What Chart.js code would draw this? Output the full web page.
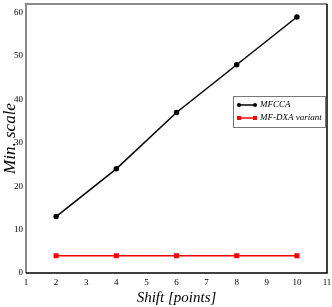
<!DOCTYPE html>
<html>
<head>
<meta charset="utf-8">
<script src="https://cdn.jsdelivr.net/npm/chart.js@4.4.0/dist/chart.umd.min.js"></script>
<style>
  html, body { margin: 0; padding: 0; background: #fff; }
  #wrap { width: 332px; height: 307px; }
</style>
</head>
<body>
<div id="wrap"><canvas id="myChart" width="332" height="307"></canvas></div>
<script>
const shifts = [2, 4, 6, 8, 10];
const mfcca = [13, 24, 37, 48, 59];
const mfdxa = [4, 4, 4, 4, 4];
const seriesNames = ['MFCCA', 'MF-DXA variant'];
const yTicks = [0, 10, 20, 30, 40, 50, 60];

const serif = '"Liberation Serif", "DejaVu Serif", serif';

// frame + legend drawn by hand
const framePlugin = {
    id: 'frame',
    afterDraw(chart) {
        const { ctx, chartArea: a } = chart;
        ctx.save();
        ctx.strokeStyle = '#8a8a8a';
        ctx.lineWidth = 2;
        ctx.beginPath();
        ctx.moveTo(a.left, a.bottom);
        ctx.lineTo(a.left, a.top);
        ctx.lineTo(a.right, a.top);
        ctx.stroke();
        ctx.strokeStyle = '#000';
        ctx.lineWidth = 1.5;
        ctx.beginPath();
        ctx.moveTo(a.left, a.bottom);
        ctx.lineTo(a.right, a.bottom);
        ctx.lineTo(a.right, a.top);
        ctx.stroke();

        // legend box
        const bx = 233, by = 96, bw = 92, bh = 31;
        ctx.fillStyle = '#fff';
        ctx.fillRect(bx, by, bw, bh);
        ctx.strokeStyle = '#777';
        ctx.lineWidth = 1;
        ctx.strokeRect(bx + 0.5, by + 0.5, bw, bh);
        chart.data.datasets.forEach((ds, i) => {
            const y = by + 9 + i * 13;
            ctx.strokeStyle = ds.borderColor;
            ctx.lineWidth = 1.5;
            ctx.beginPath();
            ctx.moveTo(bx + 6, y);
            ctx.lineTo(bx + 22, y);
            ctx.stroke();
            ctx.fillStyle = ds.borderColor;
            [bx + 6, bx + 22].forEach(px => {
                if (ds.pointStyle === 'rect') {
                    ctx.fillRect(px - 2, y - 2, 4, 4);
                } else {
                    ctx.beginPath();
                    ctx.arc(px, y, 2, 0, Math.PI * 2);
                    ctx.fill();
                }
            });
            ctx.fillStyle = '#000';
            ctx.font = 'italic 9px ' + serif;
            ctx.textBaseline = 'middle';
            ctx.fillText(ds.label, bx + 27, y);
        });
        ctx.restore();
    }
};

const ctx = document.getElementById('myChart').getContext('2d');
const chart = new Chart(ctx, {
    type: 'line',
    data: {
        datasets: [{
            label: seriesNames[0],
            data: shifts.map((x, i) => ({ x: x, y: mfcca[i] })),
            borderColor: '#000',
            backgroundColor: '#000',
            borderWidth: 1.5,
            pointStyle: 'circle',
            pointRadius: 2,
            pointHoverRadius: 2
        }, {
            label: seriesNames[1],
            data: shifts.map((x, i) => ({ x: x, y: mfdxa[i] })),
            borderColor: '#ff0000',
            backgroundColor: '#ff0000',
            borderWidth: 1.5,
            pointStyle: 'rect',
            pointRadius: 2.5,
            pointHoverRadius: 2.5
        }]
    },
    options: {
        responsive: false,
        animation: false,
        layout: { padding: { top: 2, right: 5, left: 0, bottom: 0 } },
        plugins: {
            legend: { display: false },
            tooltip: { enabled: false }
        },
        scales: {
            x: {
                type: 'linear',
                min: 1,
                max: 11,
                grid: { display: false, drawTicks: false },
                border: { display: false },
                ticks: {
                    stepSize: 1,
                    color: '#000',
                    padding: 4,
                    font: { family: serif, size: 9 }
                },
                title: {
                    display: true,
                    text: 'Shift [points]',
                    color: '#000',
                    padding: { top: 0, bottom: 0 },
                    font: { family: serif, size: 15, style: 'italic' }
                },
                afterFit(scale) {
                    scale.height = 34;
                    scale.paddingLeft = 0;
                    scale.paddingRight = 0;
                }
            },
            y: {
                min: 0,
                max: 62,
                grid: { display: false, drawTicks: false },
                border: { display: false },
                afterBuildTicks(scale) {
                    scale.ticks = yTicks.map(v => ({ value: v }));
                },
                ticks: {
                    color: '#000',
                    padding: 3,
                    font: { family: serif, size: 9 }
                },
                title: {
                    display: true,
                    text: 'Min. scale',
                    color: '#000',
                    padding: { top: 0, bottom: 0 },
                    font: { family: serif, size: 17, style: 'italic' }
                },
                afterFit(scale) {
                    scale.width = 26;
                    scale.paddingTop = 0;
                    scale.paddingBottom = 0;
                }
            }
        }
    },
    plugins: [framePlugin]
});
</script>
</body>
</html>
